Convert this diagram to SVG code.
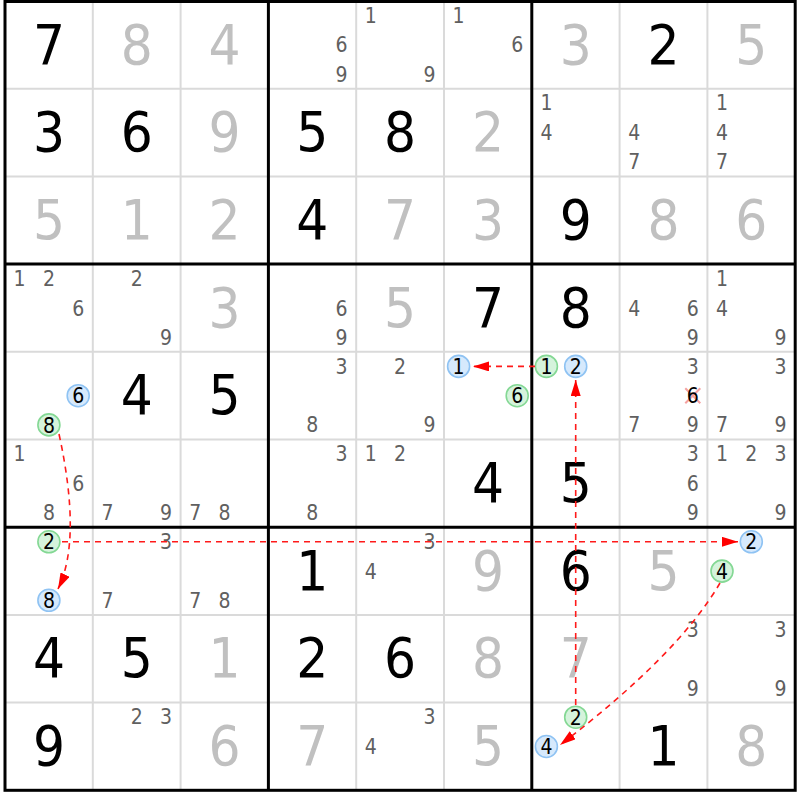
<svg xmlns="http://www.w3.org/2000/svg" width="800" height="800" viewBox="0 0 800 800">
<style>
text{font-family:"DejaVu Sans Condensed","DejaVu Sans",sans-serif;text-anchor:middle}
.g{fill:#c0c0c0;font-size:56px}
.s{fill:#000;font-size:56px}
.c{fill:#606060;font-size:21px}
.k{fill:#000;font-size:21px}
.b{fill:#d6e9fc;stroke:#8fc3f3;stroke-width:1.6}
.n{fill:#d5f3dc;stroke:#84d894;stroke-width:1.6}
.thin{stroke:#dadada;stroke-width:2}
.thick{stroke:#000;stroke-width:3}
.ln{fill:none;stroke:#ff1a1a;stroke-width:1.6;stroke-dasharray:6 5;marker-end:url(#ah)}
.x{stroke:#f4a0a0;stroke-width:2}
</style>
<defs>
<marker id="ah" markerUnits="userSpaceOnUse" markerWidth="16" markerHeight="10" refX="16" refY="5" orient="auto" viewBox="0 0 16 10">
<path d="M0,0 L16,5 L0,10 z" fill="#ff0000"/>
</marker>
</defs>
<rect width="800" height="800" fill="#fff"/>
<g id="grid">
<g class="thin">
<line x1="92.8" y1="1" x2="92.8" y2="790.3"/><line x1="180.6" y1="1" x2="180.6" y2="790.3"/>
<line x1="356.2" y1="1" x2="356.2" y2="790.3"/><line x1="444" y1="1" x2="444" y2="790.3"/>
<line x1="619.6" y1="1" x2="619.6" y2="790.3"/><line x1="707.4" y1="1" x2="707.4" y2="790.3"/>
<line x1="5" y1="88.7" x2="795.2" y2="88.7"/><line x1="5" y1="176.4" x2="795.2" y2="176.4"/>
<line x1="5" y1="351.8" x2="795.2" y2="351.8"/><line x1="5" y1="439.5" x2="795.2" y2="439.5"/>
<line x1="5" y1="614.9" x2="795.2" y2="614.9"/><line x1="5" y1="702.6" x2="795.2" y2="702.6"/>
</g>
<g class="thick">
<line x1="268.4" y1="1" x2="268.4" y2="790.3"/><line x1="531.8" y1="1" x2="531.8" y2="790.3"/>
<line x1="5" y1="264.1" x2="795.2" y2="264.1"/><line x1="5" y1="527.2" x2="795.2" y2="527.2"/>
<rect x="5" y="1.5" width="790.2" height="788.8" fill="none"/>
</g>
</g>
<g id="cells">
<g id="r1c1"><text class="s" x="48.9" y="63.5">7</text></g>
<g id="r1c2"><text class="g" x="136.7" y="63.5">8</text></g>
<g id="r1c3"><text class="g" x="224.5" y="63.5">4</text></g>
<g id="r1c4"><text class="c" x="341.6" y="52.4">6</text><text class="c" x="341.6" y="81.6">9</text></g>
<g id="r1c5"><text class="c" x="370.8" y="22.7">1</text><text class="c" x="429.4" y="81.6">9</text></g>
<g id="r1c6"><text class="c" x="458.6" y="22.7">1</text><text class="c" x="517.2" y="52.4">6</text></g>
<g id="r1c7"><text class="g" x="575.7" y="63.5">3</text></g>
<g id="r1c8"><text class="s" x="663.5" y="63.5">2</text></g>
<g id="r1c9"><text class="g" x="751.3" y="63.5">5</text></g>

<g id="r2c1"><text class="s" x="48.9" y="151.2">3</text></g>
<g id="r2c2"><text class="s" x="136.7" y="151.2">6</text></g>
<g id="r2c3"><text class="g" x="224.5" y="151.2">9</text></g>
<g id="r2c4"><text class="s" x="312.3" y="151.2">5</text></g>
<g id="r2c5"><text class="s" x="400.1" y="151.2">8</text></g>
<g id="r2c6"><text class="g" x="487.9" y="151.2">2</text></g>
<g id="r2c7"><text class="c" x="546.4" y="110.4">1</text><text class="c" x="546.4" y="140.1">4</text></g>
<g id="r2c8"><text class="c" x="634.2" y="140.1">4</text><text class="c" x="634.2" y="169.3">7</text></g>
<g id="r2c9"><text class="c" x="722" y="110.4">1</text><text class="c" x="722" y="140.1">4</text><text class="c" x="722" y="169.3">7</text></g>

<g id="r3c1"><text class="g" x="48.9" y="238.9">5</text></g>
<g id="r3c2"><text class="g" x="136.7" y="238.9">1</text></g>
<g id="r3c3"><text class="g" x="224.5" y="238.9">2</text></g>
<g id="r3c4"><text class="s" x="312.3" y="238.9">4</text></g>
<g id="r3c5"><text class="g" x="400.1" y="238.9">7</text></g>
<g id="r3c6"><text class="g" x="487.9" y="238.9">3</text></g>
<g id="r3c7"><text class="s" x="575.7" y="238.9">9</text></g>
<g id="r3c8"><text class="g" x="663.5" y="238.9">8</text></g>
<g id="r3c9"><text class="g" x="751.3" y="238.9">6</text></g>

<g id="r4c1"><text class="c" x="19.6" y="285.8">1</text><text class="c" x="48.9" y="285.8">2</text><text class="c" x="78.2" y="315.5">6</text></g>
<g id="r4c2"><text class="c" x="136.7" y="285.8">2</text><text class="c" x="166" y="344.7">9</text></g>
<g id="r4c3"><text class="g" x="224.5" y="326.6">3</text></g>
<g id="r4c4"><text class="c" x="341.6" y="315.5">6</text><text class="c" x="341.6" y="344.7">9</text></g>
<g id="r4c5"><text class="g" x="400.1" y="326.6">5</text></g>
<g id="r4c6"><text class="s" x="487.9" y="326.6">7</text></g>
<g id="r4c7"><text class="s" x="575.7" y="326.6">8</text></g>
<g id="r4c8"><text class="c" x="634.2" y="315.5">4</text><text class="c" x="692.8" y="315.5">6</text><text class="c" x="692.8" y="344.7">9</text></g>
<g id="r4c9"><text class="c" x="722" y="285.8">1</text><text class="c" x="722" y="315.5">4</text><text class="c" x="780.6" y="344.7">9</text></g>

<g id="r5c1"><circle class="b" cx="78.2" cy="395.7" r="11"/><text class="k" x="78.2" y="403.3">6</text><circle class="n" cx="48.9" cy="424.9" r="11"/><text class="k" x="48.9" y="432.5">8</text></g>
<g id="r5c2"><text class="s" x="136.7" y="414.3">4</text></g>
<g id="r5c3"><text class="s" x="224.5" y="414.3">5</text></g>
<g id="r5c4"><text class="c" x="341.6" y="373.5">3</text><text class="c" x="312.3" y="432.4">8</text></g>
<g id="r5c5"><text class="c" x="400.1" y="373.5">2</text><text class="c" x="429.4" y="432.4">9</text></g>
<g id="r5c6"><circle class="b" cx="458.6" cy="366.4" r="11"/><text class="k" x="458.6" y="374">1</text><circle class="n" cx="517.2" cy="395.7" r="11"/><text class="k" x="517.2" y="403.3">6</text></g>
<g id="r5c7"><circle class="n" cx="546.4" cy="366.4" r="11"/><text class="k" x="546.4" y="374">1</text><circle class="b" cx="575.7" cy="366.4" r="11"/><text class="k" x="575.7" y="374">2</text></g>
<g id="r5c8"><text class="c" x="692.8" y="373.5">3</text><line class="x" x1="685.3" y1="388.2" x2="700.3" y2="403.2"/><line class="x" x1="700.3" y1="388.2" x2="685.3" y2="403.2"/><text class="k" x="692.8" y="403.3">6</text><text class="c" x="634.2" y="432.4">7</text><text class="c" x="692.8" y="432.4">9</text></g>
<g id="r5c9"><text class="c" x="780.6" y="373.5">3</text><text class="c" x="722" y="432.4">7</text><text class="c" x="780.6" y="432.4">9</text></g>

<g id="r6c1"><text class="c" x="19.6" y="461.2">1</text><text class="c" x="78.2" y="490.9">6</text><text class="c" x="48.9" y="520.1">8</text></g>
<g id="r6c2"><text class="c" x="107.4" y="520.1">7</text><text class="c" x="166" y="520.1">9</text></g>
<g id="r6c3"><text class="c" x="195.2" y="520.1">7</text><text class="c" x="224.5" y="520.1">8</text></g>
<g id="r6c4"><text class="c" x="341.6" y="461.2">3</text><text class="c" x="312.3" y="520.1">8</text></g>
<g id="r6c5"><text class="c" x="370.8" y="461.2">1</text><text class="c" x="400.1" y="461.2">2</text></g>
<g id="r6c6"><text class="s" x="487.9" y="502">4</text></g>
<g id="r6c7"><text class="s" x="575.7" y="502">5</text></g>
<g id="r6c8"><text class="c" x="692.8" y="461.2">3</text><text class="c" x="692.8" y="490.9">6</text><text class="c" x="692.8" y="520.1">9</text></g>
<g id="r6c9"><text class="c" x="722" y="461.2">1</text><text class="c" x="751.3" y="461.2">2</text><text class="c" x="780.6" y="461.2">3</text><text class="c" x="780.6" y="520.1">9</text></g>

<g id="r7c1"><circle class="n" cx="48.9" cy="541.8" r="11"/><text class="k" x="48.9" y="549.4">2</text><circle class="b" cx="48.9" cy="600.3" r="11"/><text class="k" x="48.9" y="607.9">8</text></g>
<g id="r7c2"><text class="c" x="166" y="548.9">3</text><text class="c" x="107.4" y="607.8">7</text></g>
<g id="r7c3"><text class="c" x="195.2" y="607.8">7</text><text class="c" x="224.5" y="607.8">8</text></g>
<g id="r7c4"><text class="s" x="312.3" y="589.7">1</text></g>
<g id="r7c5"><text class="c" x="429.4" y="548.9">3</text><text class="c" x="370.8" y="578.6">4</text></g>
<g id="r7c6"><text class="g" x="487.9" y="589.7">9</text></g>
<g id="r7c7"><text class="s" x="575.7" y="589.7">6</text></g>
<g id="r7c8"><text class="g" x="663.5" y="589.7">5</text></g>
<g id="r7c9"><circle class="b" cx="751.3" cy="541.8" r="11"/><text class="k" x="751.3" y="549.4">2</text><circle class="n" cx="722" cy="571.1" r="11"/><text class="k" x="722" y="578.7">4</text></g>

<g id="r8c1"><text class="s" x="48.9" y="677.4">4</text></g>
<g id="r8c2"><text class="s" x="136.7" y="677.4">5</text></g>
<g id="r8c3"><text class="g" x="224.5" y="677.4">1</text></g>
<g id="r8c4"><text class="s" x="312.3" y="677.4">2</text></g>
<g id="r8c5"><text class="s" x="400.1" y="677.4">6</text></g>
<g id="r8c6"><text class="g" x="487.9" y="677.4">8</text></g>
<g id="r8c7"><text class="g" x="575.7" y="677.4">7</text></g>
<g id="r8c8"><text class="c" x="692.8" y="636.6">3</text><text class="c" x="692.8" y="695.5">9</text></g>
<g id="r8c9"><text class="c" x="780.6" y="636.6">3</text><text class="c" x="780.6" y="695.5">9</text></g>

<g id="r9c1"><text class="s" x="48.9" y="765.1">9</text></g>
<g id="r9c2"><text class="c" x="136.7" y="724.3">2</text><text class="c" x="166" y="724.3">3</text></g>
<g id="r9c3"><text class="g" x="224.5" y="765.1">6</text></g>
<g id="r9c4"><text class="g" x="312.3" y="765.1">7</text></g>
<g id="r9c5"><text class="c" x="429.4" y="724.3">3</text><text class="c" x="370.8" y="754">4</text></g>
<g id="r9c6"><text class="g" x="487.9" y="765.1">5</text></g>
<g id="r9c7"><circle class="n" cx="575.7" cy="717.2" r="11"/><text class="k" x="575.7" y="724.8">2</text><circle class="b" cx="546.4" cy="746.5" r="11"/><text class="k" x="546.4" y="754.1">4</text></g>
<g id="r9c8"><text class="s" x="663.5" y="765.1">1</text></g>
<g id="r9c9"><text class="g" x="751.3" y="765.1">8</text></g>
</g>
<g id="connectors">
<path class="ln" d="M535,366.4 L473,366.4"/>
<path class="ln" d="M575.7,705 L575.7,380"/>
<path class="ln" d="M62,541.8 L738,541.8"/>
<path class="ln" d="M59,434 Q82,540 58,589"/>
<path class="ln" d="M720,583 Q678,655 560,745"/>
</g>
</svg>
